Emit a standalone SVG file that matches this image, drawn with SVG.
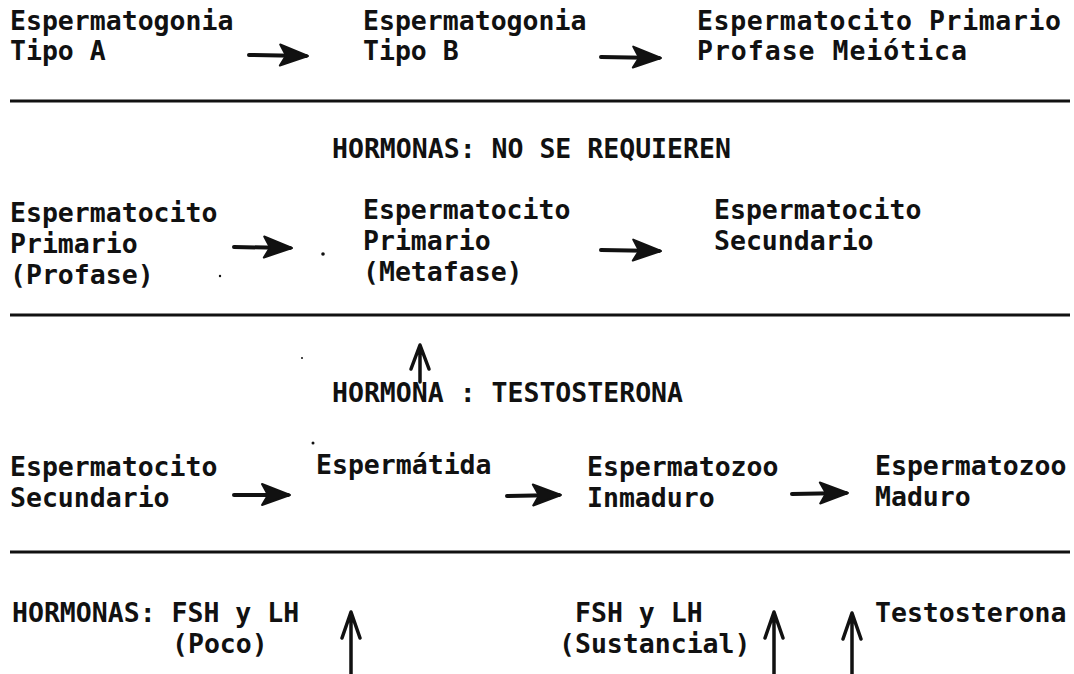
<svg xmlns="http://www.w3.org/2000/svg" width="1074" height="674" viewBox="0 0 1074 674">
<defs>
<style>
text{font-family:"DejaVu Sans Mono","Liberation Mono",monospace;font-weight:bold;font-size:26.5px;fill:#111;}
.rule{stroke:#111;stroke-width:3;fill:none;}
.arr{stroke:#111;stroke-width:4;fill:none;stroke-linecap:round;}
.up{stroke:#111;stroke-width:3.5;fill:none;stroke-linecap:round;stroke-linejoin:round;}
</style>
<marker id="ah" markerUnits="userSpaceOnUse" markerWidth="40" markerHeight="30" viewBox="-32 -15 40 30" refX="0" refY="0" orient="auto">
<path d="M2,0 L-26,-11 L-20,0 L-26,10 Z" fill="#111" stroke="#111" stroke-width="2" stroke-linejoin="round"/>
</marker>
</defs>
<rect width="1074" height="674" fill="#fff"/>
<g id="rules">
<line class="rule" x1="10" y1="101" x2="1070" y2="101"/>
<line class="rule" x1="10" y1="315" x2="1070" y2="315"/>
<line class="rule" x1="10" y1="552" x2="1070" y2="552"/>
</g>
<g id="n1"><text x="10" y="30">Espermatogonia</text><text x="10" y="60">Tipo A</text></g>
<g id="n2"><text x="363" y="30">Espermatogonia</text><text x="363" y="60">Tipo B</text></g>
<g id="n3"><text x="697" y="30" textLength="364" lengthAdjust="spacing">Espermatocito Primario</text><text x="697" y="60" textLength="270" lengthAdjust="spacing">Profase Meiótica</text></g>
<g id="h1"><text x="332" y="158">HORMONAS: NO SE REQUIEREN</text></g>
<g id="n4"><text x="10" y="222">Espermatocito</text><text x="10" y="253">Primario</text><text x="10" y="284">(Profase)</text></g>
<g id="n5"><text x="363" y="219">Espermatocito</text><text x="363" y="250">Primario</text><text x="363" y="281">(Metafase)</text></g>
<g id="n6"><text x="714" y="219">Espermatocito</text><text x="714" y="250">Secundario</text></g>
<g id="h2"><text x="332" y="402">HORMONA : TESTOSTERONA</text></g>
<g id="n7"><text x="10" y="476">Espermatocito</text><text x="10" y="507">Secundario</text></g>
<g id="n8"><text x="316" y="474">Espermátida</text></g>
<g id="n9"><text x="587" y="476">Espermatozoo</text><text x="587" y="507">Inmaduro</text></g>
<g id="n10"><text x="875" y="475">Espermatozoo</text><text x="875" y="506">Maduro</text></g>
<g id="h3"><text x="12" y="622">HORMONAS: FSH y LH</text><text x="172" y="653">(Poco)</text></g>
<g id="h4"><text x="575" y="622">FSH y LH</text><text x="559" y="653">(Sustancial)</text></g>
<g id="h5"><text x="875" y="622">Testosterona</text></g>
<g id="connectors">
<line class="arr" x1="249" y1="55" x2="306" y2="56" marker-end="url(#ah)"/>
<line class="arr" x1="601" y1="57" x2="659" y2="58" marker-end="url(#ah)"/>
<line class="arr" x1="234" y1="247" x2="290" y2="248" marker-end="url(#ah)"/>
<line class="arr" x1="601" y1="250" x2="659" y2="251" marker-end="url(#ah)"/>
<line class="arr" x1="234" y1="495" x2="288" y2="495" marker-end="url(#ah)"/>
<line class="arr" x1="507" y1="496" x2="559" y2="495" marker-end="url(#ah)"/>
<line class="arr" x1="792" y1="494" x2="846" y2="493" marker-end="url(#ah)"/>
<path class="up" d="M420,382 L420,348 M411,369 L420,345 L429,369"/>
<path class="up" d="M351,674 L351,615 M342,638 L351,612 L360,638"/>
<path class="up" d="M774,674 L774,615 M765,638 L774,612 L783,638"/>
<path class="up" d="M852,674 L852,616 M843,639 L852,613 L861,639"/>
</g>
<g id="specks" fill="#111">
<circle cx="323" cy="254" r="1.8"/>
<circle cx="220" cy="276" r="1.2"/>
<circle cx="313" cy="443" r="1.5"/>
<circle cx="302" cy="358" r="1"/>
</g>
</svg>
